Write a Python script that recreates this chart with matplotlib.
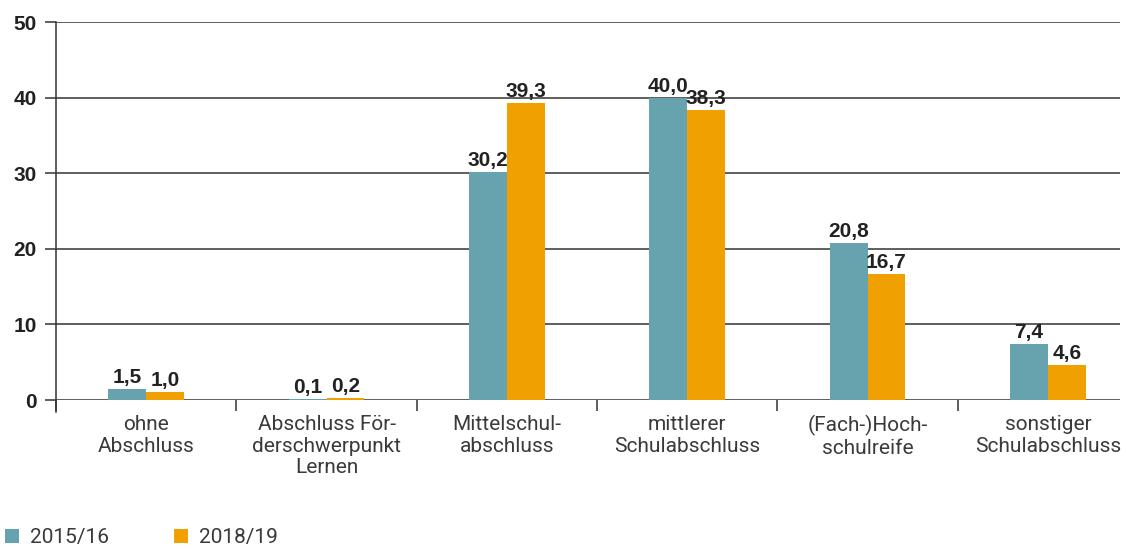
import matplotlib.pyplot as plt
import numpy as np

categories = ["ohne\nAbschluss", "Abschluss För-\nderschwerpunkt\nLernen", "Mittelschul-\nabschluss",
              "mittlerer\nSchulabschluss", "(Fach-)Hoch-\nschulreife", "sonstiger\nSchulabschluss"]
series_names = ["2015/16", "2018/19"]
values_2015 = [1.5, 0.1, 30.2, 40.0, 20.8, 7.4]
values_2018 = [1.0, 0.2, 39.3, 38.3, 16.7, 4.6]
yticks = [0, 10, 20, 30, 40, 50]

colors = ["#67A3AE", "#F0A000"]
text_dark = "#222222"
line_col = "#333333"
label_font = ["Roboto", "DejaVu Sans"]

plt.rcParams['font.family'] = ['Liberation Sans', 'DejaVu Sans']

fig = plt.figure(figsize=(11.26, 5.49), dpi=100)
ax = fig.add_axes([56 / 1126, 149 / 549, (1120 - 56) / 1126, 378 / 549])

x = np.arange(len(categories))
w = 0.21
b1 = ax.bar(x - w / 2, values_2015, w, color=colors[0], label=series_names[0], zorder=3)
b2 = ax.bar(x + w / 2, values_2018, w, color=colors[1], label=series_names[1], zorder=3)

def fmt(v):
    return f"{v:.1f}".replace(".", ",")

for bars, vals in [(b1, values_2015), (b2, values_2018)]:
    for rect, v in zip(bars, vals):
        ax.annotate(fmt(v), (rect.get_x() + rect.get_width() / 2, v),
                    xytext=(0, 1.5), textcoords="offset points",
                    ha="center", va="bottom", fontsize=15, fontweight="bold",
                    color=text_dark, zorder=4)

ax.set_ylim(0, 50)
ax.set_xlim(-0.5, 5.4)
ax.set_yticks(yticks)
ax.set_yticklabels([str(t) for t in yticks], fontsize=15, fontweight="bold", color=text_dark)
ax.yaxis.grid(True, color=line_col, linewidth=1.1, zorder=1)
ax.tick_params(axis="y", length=8, width=1.1, color=line_col, pad=6)

ax.set_xticks(x)
ax.set_xticklabels(categories, fontsize=15, color="#3a3a3a", family=label_font,
                   fontweight="normal", linespacing=1.15)
ax.tick_params(axis="x", which="major", length=0, pad=11)
ax.set_xticks(np.arange(-0.5, 5.5, 1.0), minor=True)
ax.tick_params(axis="x", which="minor", length=8, width=1.1, color=line_col)

for s in ["top", "right", "bottom"]:
    ax.spines[s].set_visible(False)
ax.spines["left"].set_color(line_col)
ax.spines["left"].set_linewidth(1.1)
ax.spines["left"].set_bounds(-1.6, 50)
ax.spines["left"].set_clip_on(False)

fig.legend(handles=[b1, b2], loc="lower left", bbox_to_anchor=(0.003, 0.0), ncol=2,
           frameon=False, borderpad=0.05, borderaxespad=0.05, handlelength=0.65, handleheight=0.65,
           handletextpad=0.55, columnspacing=3.1,
           prop={"family": label_font, "weight": "normal", "size": 15})
for t in fig.legends[0].get_texts():
    t.set_color("#3a3a3a")

fig.savefig("out.png", dpi=100, facecolor="white")
